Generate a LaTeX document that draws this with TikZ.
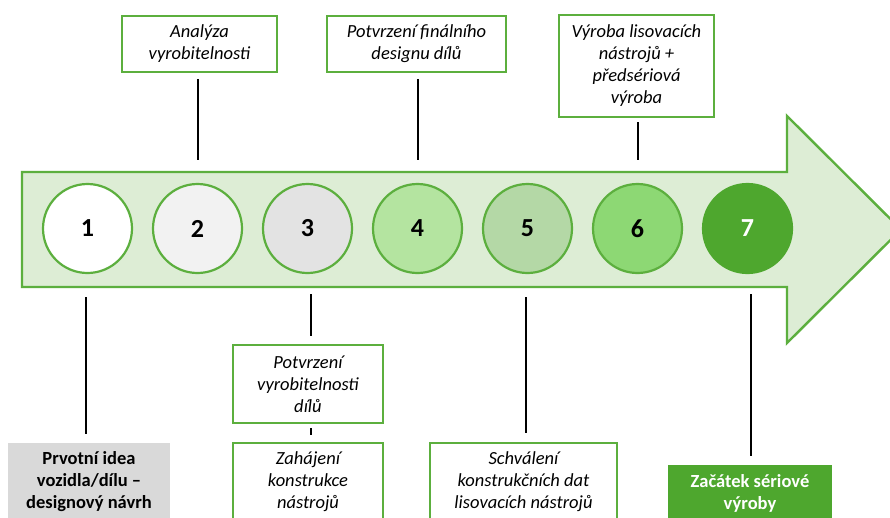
\documentclass[tikz,border=0pt]{standalone}
\usepackage{fontspec}
\setmainfont{Carlito}
\usetikzlibrary{calc}
\definecolor{gborder}{HTML}{5CAF3E}
\definecolor{gfill}{HTML}{DDEDD5}
\definecolor{cgrey2}{HTML}{F2F2F2}
\definecolor{cgrey3}{HTML}{E3E3E3}
\definecolor{cg4}{HTML}{B4E4A0}
\definecolor{cg5}{HTML}{B4D8A6}
\definecolor{cg6}{HTML}{8DD874}
\definecolor{cg7}{HTML}{4EA72E}
\definecolor{boxgrey}{HTML}{D9D9D9}
\begin{document}
\begin{tikzpicture}[x=1pt,y=-1pt,
  circ/.style={circle, draw=gborder, line width=2.2pt, minimum size=89pt, inner sep=0pt,
    font=\fontsize{26}{30}\selectfont\bfseries},
  tbox/.style={draw=gborder, line width=2.5pt, fill=white, align=center, inner sep=2pt,
    font=\fontsize{18.5}{22}\selectfont\itshape},
  conn/.style={draw=black, line width=2pt}
]
\clip (0,0) rectangle (890,517);
\fill[white] (0,0) rectangle (890,517);
% big arrow
\draw[draw=gborder, fill=gfill, line width=2.4pt, line join=miter]
  (22,172) -- (787,172) -- (787,116) -- (901,229.5) -- (787,343) -- (787,287) -- (22,287) -- cycle;
% circles
\node[circ, fill=white] (c1) at (87.5,228.5) {1};
\node[circ, fill=cgrey2] (c2) at (197.5,228.5) {2};
\node[circ, fill=cgrey3] (c3) at (307.5,228.5) {3};
\node[circ, fill=cg4] (c4) at (417.5,228.5) {4};
\node[circ, fill=cg5] (c5) at (527.5,228.5) {5};
\node[circ, fill=cg6] (c6) at (637.5,228.5) {6};
\node[circ, fill=cg7, draw=cg7, text=white] (c7) at (747.5,228.5) {7};
% top boxes
\node[tbox, minimum width=155pt, minimum height=56pt] (a2) at (199.5,44) {Analýza\\vyrobitelnosti};
\node[tbox, minimum width=179pt, minimum height=56pt] (a4) at (416.5,44) {Potvrzení finálního\\designu dílů};
\node[tbox, minimum width=155pt, minimum height=102pt] (a6) at (636.5,66) {Výroba lisovacích\\nástrojů +\\předsériová\\výroba};
% bottom boxes
\node[fill=boxgrey, align=center, minimum width=162pt, minimum height=78pt, inner sep=2pt,
  font=\fontsize{18.5}{22}\selectfont\bfseries] (b1) at (89,482) {Prvotní idea\\vozidla/dílu –\\designový návrh};
\node[tbox, minimum width=150pt, minimum height=78pt] (b3a) at (308,384) {Potvrzení\\vyrobitelnosti\\dílů};
\node[tbox, minimum width=150pt, minimum height=78pt] (b3b) at (308,482) {Zahájení\\konstrukce\\nástrojů};
\node[tbox, minimum width=187pt, minimum height=78pt] (b5) at (523.5,482) {Schválení\\konstrukčních dat\\lisovacích nástrojů};
\node[fill=cg7, text=white, align=center, minimum width=164pt, minimum height=56pt, inner sep=2pt,
  font=\fontsize{18.5}{22}\selectfont\bfseries] (b7) at (750,493) {Začátek sériové\\výroby};
% connectors
\draw[conn] ($(a2.south -| c2)+(0,6)$) -- ($(c2.north)+(0,-23)$);
\draw[conn] ($(a4.south -| c4)+(0,6)$) -- ($(c4.north)+(0,-23)$);
\draw[conn] ($(a6.south -| c6)+(0,4)$) -- ($(c6.north)+(0,-23)$);
\draw[conn] ($(c1.south)+(-2,23)$) -- ($(b1.north -| c1)+(-2,-9)$);
\draw[conn] ($(c3.south)+(3,20)$) -- ($(b3a.north -| c3)+(3,-8)$);
\draw[conn] ($(b3a.south -| c3)+(3,4)$) -- ($(b3b.north -| c3)+(3,-7)$);
\draw[conn] ($(c5.south)+(-2,23)$) -- ($(b5.north -| c5)+(-2,-9)$);
\draw[conn] ($(c7.south)+(3,20)$) -- ($(b7.north -| c7)+(3,-9)$);
\end{tikzpicture}
\end{document}
